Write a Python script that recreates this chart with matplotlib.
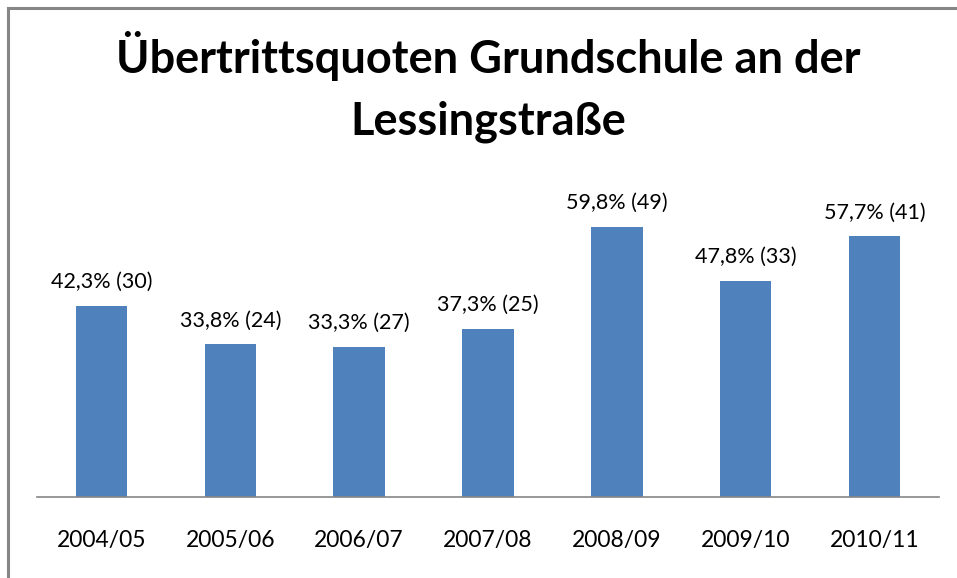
import matplotlib
matplotlib.use("Agg")
import matplotlib.pyplot as plt
from matplotlib.patches import Rectangle

categories = ["2004/05", "2005/06", "2006/07", "2007/08", "2008/09", "2009/10", "2010/11"]
quoten = [42.3, 33.8, 33.3, 37.3, 59.8, 47.8, 57.7]
anzahl = [30, 24, 27, 25, 49, 33, 41]
title = "Übertrittsquoten Grundschule an der\nLessingstraße"

plt.rcParams['font.family'] = ['Lato', 'DejaVu Sans']

W, H = 957, 578
fig = plt.figure(figsize=(W / 100, H / 100), dpi=100)
fig.patch.set_facecolor("white")

# outer chart border (only top/left visible in the crop)
fig.add_artist(Rectangle((8 / W, -0.1), 1.2, (H - 8) / H + 0.1, transform=fig.transFigure,
                         fill=False, edgecolor="#868686", linewidth=2.2))

ax_left, ax_right = 37 / W, 939 / W
ax_bottom = (H - 497) / H
ymax = 70
px_per = 4.515
ax_top = (H - (497 - ymax * px_per)) / H
ax = fig.add_axes([ax_left, ax_bottom, ax_right - ax_left, ax_top - ax_bottom])

x = list(range(len(categories)))
bars = ax.bar(x, quoten, width=0.4, color="#4F81BD")
ax.set_xlim(-0.5, len(categories) - 0.5)
ax.set_ylim(0, ymax)

for xi, q, n in zip(x, quoten, anzahl):
    lbl = f"{q:.1f}".replace(".", ",") + f"% ({n})"
    ax.annotate(lbl, (xi, q), xytext=(0, 10), textcoords="offset points",
                ha="center", va="bottom", fontsize=15.5, color="black")

ax.set_xticks(x)
ax.set_xticklabels(categories, fontsize=16.5)
ax.tick_params(axis="x", length=0, pad=24)
ax.set_yticks([])
for s in ["top", "right", "left"]:
    ax.spines[s].set_visible(False)
ax.spines["bottom"].set_color("#868686")
ax.spines["bottom"].set_linewidth(1.2)

fig.text(488 / W, 1 - 87 / H, title, ha="center", va="center", fontsize=32.5,
         fontweight="bold", linespacing=1.6)

fig.savefig("out.png", dpi=100)
